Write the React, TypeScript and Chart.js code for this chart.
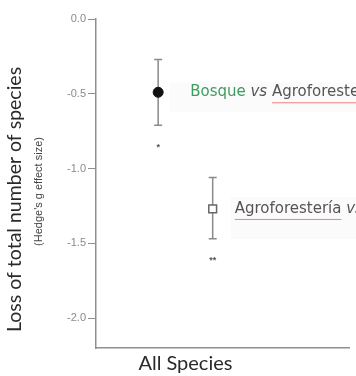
import React, { useEffect, useRef } from "react";
import { Chart, registerables } from "chart.js";

Chart.register(...registerables);

// ---- data ----
const categories = ["All Species"];
const categoryValue = [1];
const comparisonsLeft = ["Bosque", "Agroforestería"];
const comparisonsRight = ["Agroforestería", "Monocultivo"];
const dodgeX = [0.75, 1.25];
const effectSizes = [-0.49, -1.27];
const ciLower = [-0.71, -1.47];
const ciUpper = [-0.27, -1.06];
const significance = ["*", "**"];
const yTicks = [0, -0.5, -1.0, -1.5, -2.0];
const yTitle = "Loss of total number of species";
const ySubtitle = "(Hedge's g effect size)";

// ---- styles ----
const AXIS_GRAY = "#8f8f8f";
const BAR_GRAY = "#8a8a8a";
const TEXT_GRAY = "#555555";
const GREEN = "#3d9c5e";
const labelStyle = [
  { dx: 32, leftColor: GREEN, withVs: true },
  { dx: 22, leftColor: TEXT_GRAY, withVs: false },
];

const overlayPlugin = {
  id: "overlay",
  beforeDatasetsDraw(chart: any) {
    const { ctx, scales } = chart;
    const x = scales.x;
    const y = scales.y;
    ctx.save();
    // faint label backgrounds
    ctx.fillStyle = "#fbfbfc";
    ctx.fillRect(x.getPixelForValue(dodgeX[0]) + 12, y.getPixelForValue(effectSizes[0]) - 10, 300, 30);
    ctx.fillRect(x.getPixelForValue(dodgeX[1]) + 18, y.getPixelForValue(effectSizes[1]) - 12, 300, 42);
    // error bars
    ctx.strokeStyle = BAR_GRAY;
    ctx.lineWidth = 1.5;
    for (let i = 0; i < effectSizes.length; i++) {
      const px = x.getPixelForValue(dodgeX[i]);
      const top = y.getPixelForValue(ciUpper[i]);
      const bot = y.getPixelForValue(ciLower[i]);
      ctx.beginPath();
      ctx.moveTo(px, top);
      ctx.lineTo(px, bot);
      ctx.moveTo(px - 4, top);
      ctx.lineTo(px + 4, top);
      ctx.moveTo(px - 4, bot);
      ctx.lineTo(px + 4, bot);
      ctx.stroke();
    }
    ctx.restore();
  },
  afterDatasetsDraw(chart: any) {
    const { ctx, scales } = chart;
    const x = scales.x;
    const y = scales.y;
    ctx.save();
    for (let i = 0; i < effectSizes.length; i++) {
      const px = x.getPixelForValue(dodgeX[i]);
      const py = y.getPixelForValue(effectSizes[i]);
      const bot = y.getPixelForValue(ciLower[i]);
      // significance stars
      ctx.fillStyle = "#555";
      ctx.font = "bold 9px 'Liberation Sans', Arial, sans-serif";
      ctx.textAlign = "center";
      ctx.textBaseline = "middle";
      ctx.fillText(significance[i], px, bot + 22);
      // comparison label
      const st = labelStyle[i];
      let tx = px + st.dx;
      ctx.textAlign = "left";
      ctx.textBaseline = "middle";
      const font = "15px 'DejaVu Sans', sans-serif";
      ctx.font = font;
      ctx.fillStyle = st.leftColor;
      ctx.fillText(comparisonsLeft[i], tx, py);
      let underlineStart = tx;
      let underlineEnd = tx + ctx.measureText(comparisonsLeft[i]).width;
      tx += ctx.measureText(comparisonsLeft[i] + " ").width;
      ctx.fillStyle = TEXT_GRAY;
      ctx.font = "italic 15px 'DejaVu Sans', sans-serif";
      ctx.fillText("vs", tx, py);
      tx += ctx.measureText("vs ").width;
      ctx.font = font;
      if (st.withVs) {
        underlineStart = tx;
        ctx.fillText(comparisonsRight[i], tx, py);
        underlineEnd = tx + ctx.measureText(comparisonsRight[i]).width;
      } else {
        ctx.fillText(comparisonsRight[i], tx, py);
      }
      // spell-check style underline
      ctx.strokeStyle = "#f08080";
      ctx.lineWidth = 1;
      ctx.beginPath();
      ctx.moveTo(underlineStart, py + 10.5);
      ctx.lineTo(underlineEnd, py + 10.5);
      ctx.stroke();
    }
    ctx.restore();
  },
  afterDraw(chart: any) {
    const { ctx, scales, chartArea } = chart;
    const x = scales.x;
    ctx.save();
    // x category label
    ctx.fillStyle = "#2a2a2a";
    ctx.font = "20px Lato, sans-serif";
    ctx.textAlign = "center";
    ctx.textBaseline = "alphabetic";
    ctx.fillText(categories[0], x.getPixelForValue(categoryValue[0]), chartArea.bottom + 22);
    // y titles
    const cy = (chartArea.top + chartArea.bottom) / 2;
    ctx.translate(21, cy + 16);
    ctx.rotate(-Math.PI / 2);
    ctx.textBaseline = "alphabetic";
    ctx.font = "19.5px Lato, sans-serif";
    ctx.fillText(yTitle, 0, 0);
    ctx.restore();
    ctx.save();
    ctx.translate(42, cy + 8);
    ctx.rotate(-Math.PI / 2);
    ctx.fillStyle = "#444";
    ctx.font = "11px 'Liberation Sans', Arial, sans-serif";
    ctx.textAlign = "center";
    ctx.textBaseline = "alphabetic";
    ctx.fillText(ySubtitle, 0, 0);
    ctx.restore();
  },
};

export default function App() {
  const ref = useRef<HTMLCanvasElement | null>(null);
  useEffect(() => {
    if (!ref.current) return;
    const chart = new Chart(ref.current, {
      type: "scatter",
      data: {
        datasets: [
          {
            data: [{ x: dodgeX[0], y: effectSizes[0] }],
            pointStyle: "circle",
            pointRadius: 5,
            backgroundColor: "#111",
            borderColor: "#111",
            borderWidth: 1,
          },
          {
            data: [{ x: dodgeX[1], y: effectSizes[1] }],
            pointStyle: "rect",
            pointRadius: 5.5,
            backgroundColor: "#ffffff",
            borderColor: "#666",
            borderWidth: 1.5,
          },
        ],
      },
      options: {
        responsive: false,
        animation: false,
        layout: { padding: { top: 19, right: 0, left: 0, bottom: 0 } },
        plugins: { legend: { display: false }, tooltip: { enabled: false } },
        scales: {
          x: {
            type: "linear",
            min: 0.18,
            max: 2.5,
            grid: { display: false },
            border: { display: true, color: AXIS_GRAY, width: 1.5 },
            ticks: { display: false },
            afterFit: (s: any) => {
              s.height = 28;
            },
          },
          y: {
            type: "linear",
            min: -2.2,
            max: 0,
            afterBuildTicks: (s: any) => {
              s.ticks = yTicks.map((v) => ({ value: v }));
            },
            ticks: {
              color: "#8a8a8a",
              font: { size: 11, family: "'Liberation Sans', Arial, sans-serif" },
              padding: 2,
              callback: (v: any) => Number(v).toFixed(1),
            },
            grid: { drawOnChartArea: false, drawTicks: true, tickLength: 8, color: AXIS_GRAY, lineWidth: 1 },
            border: { display: true, color: AXIS_GRAY, width: 1.5 },
            afterFit: (s: any) => {
              s.width = 96;
            },
          },
        },
      },
      plugins: [overlayPlugin],
    } as any);
    return () => chart.destroy();
  }, []);
  return (
    <div style={{ position: "fixed", left: 0, top: 0, width: 356, height: 376, background: "#fff" }}>
      <canvas ref={ref} width={356} height={376} />
    </div>
  );
}
